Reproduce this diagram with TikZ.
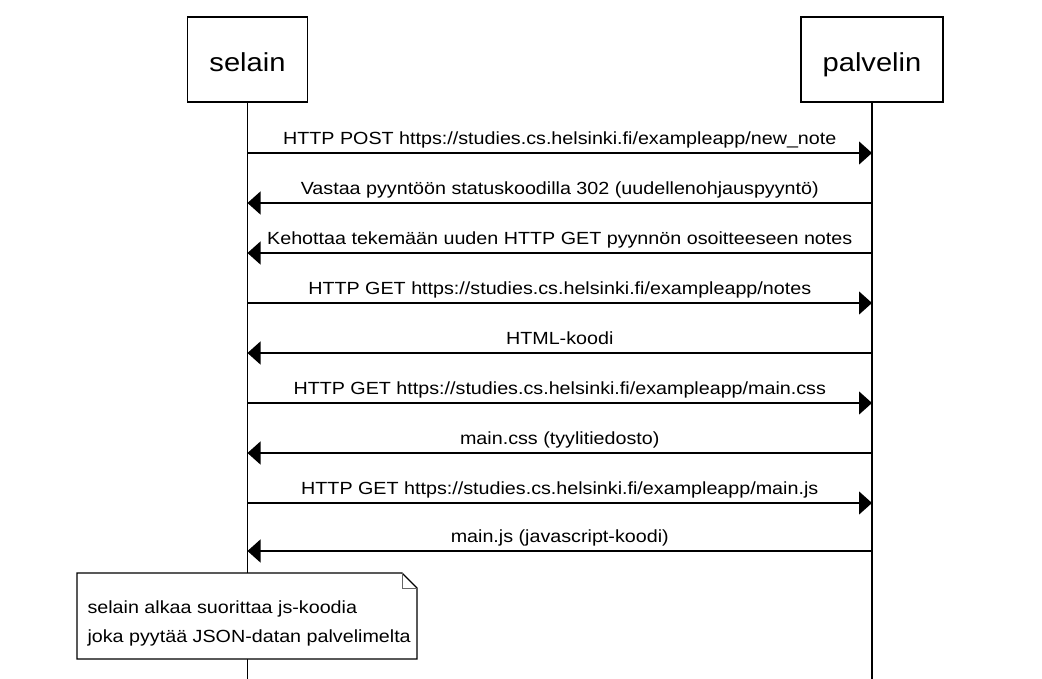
\documentclass[tikz,border=0pt]{standalone}
\usepackage{fontspec}
\setmainfont[FakeStretch=1.12]{Liberation Sans}
\usetikzlibrary{arrows.meta}

\begin{document}
\begin{tikzpicture}[
        x=1pt, y=-1pt,
        line width=1.1pt,
        actor/.style={
            draw=black,
            fill=white,
            minimum width=120pt,
            minimum height=85pt,
            inner sep=0pt,
            text height=25pt,
            text depth=0pt,
            font=\fontsize{26}{30}\selectfont,
        },
        msg/.style={
            -{Triangle[length=13pt, width=23pt]},
        },
        lbl/.style={
            midway,
            anchor=base,
            yshift=8.5pt,
            inner sep=0pt,
            font=\fontsize{17.6}{20}\selectfont,
        },
        notetext/.style={
            anchor=base west,
            inner sep=0pt,
            font=\fontsize{17.6}{20}\selectfont,
        },
    ]

    \useasboundingbox (0, 0) rectangle (1042, 679);

    \node[actor] (selain)   at (247.5, 59.5) {selain};
    \node[actor, minimum width=142pt] (palvelin) at (872, 59.5) {palvelin};

    \coordinate (sEnd) at (247.5, 679);
    \coordinate (pEnd) at (872, 679);
    \draw (selain.south) -- (sEnd);
    \draw (palvelin.south) -- (pEnd);

    \foreach \i/\y in {1/153, 2/203, 3/253, 4/303, 5/353, 6/403, 7/453, 8/503, 9/551} {
        \coordinate (s\i) at (247.5, \y);
        \coordinate (p\i) at (872, \y);
    }

    \draw[msg] (s1) -- node[lbl] {HTTP POST https://studies.cs.helsinki.fi/exampleapp/new\_note} (p1);
    \draw[msg] (p2) -- node[lbl] {Vastaa pyyntöön statuskoodilla 302 (uudellenohjauspyyntö)} (s2);
    \draw[msg] (p3) -- node[lbl] {Kehottaa tekemään uuden HTTP GET pyynnön osoitteeseen notes} (s3);
    \draw[msg] (s4) -- node[lbl] {HTTP GET https://studies.cs.helsinki.fi/exampleapp/notes} (p4);
    \draw[msg] (p5) -- node[lbl] {HTML-koodi} (s5);
    \draw[msg] (s6) -- node[lbl] {HTTP GET https://studies.cs.helsinki.fi/exampleapp/main.css} (p6);
    \draw[msg] (p7) -- node[lbl] {main.css (tyylitiedosto)} (s7);
    \draw[msg] (s8) -- node[lbl] {HTTP GET https://studies.cs.helsinki.fi/exampleapp/main.js} (p8);
    \draw[msg] (p9) -- node[lbl] {main.js (javascript-koodi)} (s9);

    % note with folded corner
    \draw[fill=white] (77, 573) -- (402, 573) -- (417, 588) -- (417, 659) -- (77, 659) -- cycle;
    \draw[line width=0.8pt, draw=black!60] (402, 573) -- (402, 588) -- (417, 588);
    \node[notetext] (note1) at (87, 613) {selain alkaa suorittaa js-koodia};
    \node[notetext] (note2) at (87, 642) {joka pyytää JSON-datan palvelimelta};

\end{tikzpicture}
\end{document}
